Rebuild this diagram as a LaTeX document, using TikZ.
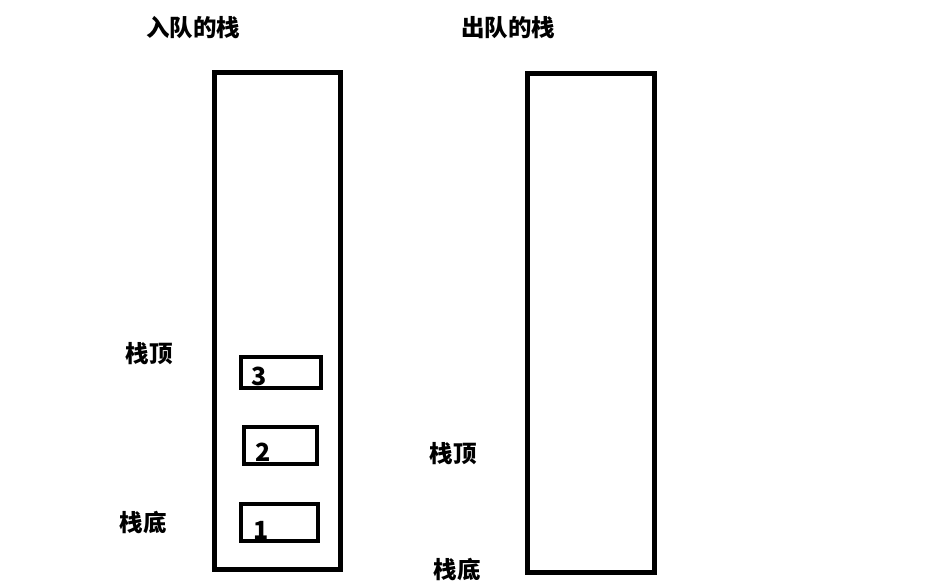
\documentclass[tikz,border=0pt]{standalone}
\usepackage{fontspec}
\newfontfamily\cjk{Noto Sans CJK SC}
\tikzset{
  lbl/.style={font=\cjk\bfseries\fontsize{23.5}{25}\selectfont, inner sep=0pt, anchor=center},
  num/.style={font=\cjk\bfseries\fontsize{25}{27}\selectfont, inner sep=0pt, anchor=center},
  stackbox/.style={draw=black, line width=5pt},
  itembox/.style={draw=black, line width=4pt},
}
\begin{document}
\begin{tikzpicture}[x=1pt,y=-1pt]
\useasboundingbox[fill=white] (0,0) rectangle (950,588);
% stacks
\draw[stackbox] (214,73) rectangle (340,569);
\draw[stackbox] (527,74) rectangle (654,572);
% items
\draw[itembox] (240.5,356.5) rectangle (320.5,388);
\draw[itembox] (244,427) rectangle (317,464);
\draw[itembox] (240.5,503.5) rectangle (317.5,540.5);
\node[num] (n3) at (259,376) {3};
\node[num] (n2) at (263,452) {2};
\node[num] (n1) at (261,530) {1};
% labels
\node[lbl] (t1) at (193,28) {入队的栈};
\node[lbl] (t2) at (508,28) {出队的栈};
\node[lbl] (top1) at (149,354) {栈顶};
\node[lbl] (bot1) at (143,522) {栈底};
\node[lbl] (top2) at (453,454) {栈顶};
\node[lbl] (bot2) at (457,569) {栈底};
\end{tikzpicture}
\end{document}
